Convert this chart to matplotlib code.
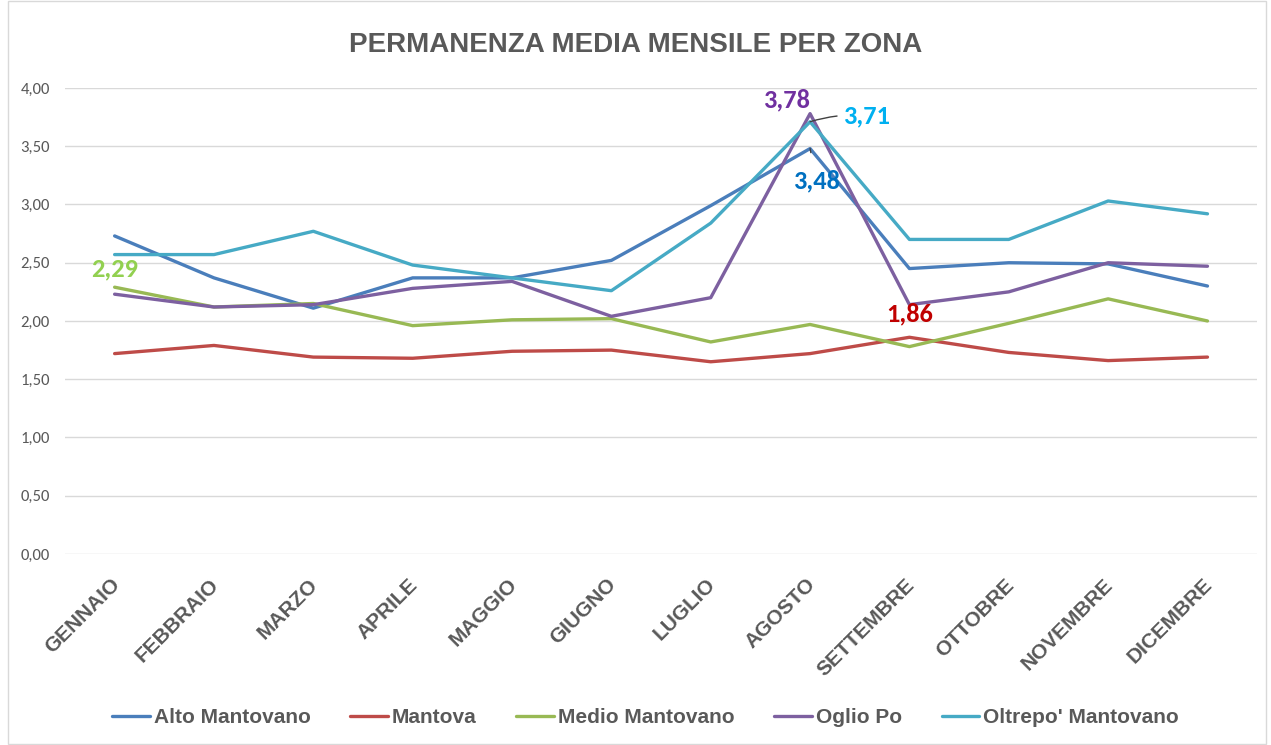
import matplotlib.pyplot as plt
import matplotlib.transforms as mtransforms
from matplotlib.ticker import FuncFormatter
from matplotlib.patches import Rectangle

# dati
mesi = ["GENNAIO", "FEBBRAIO", "MARZO", "APRILE", "MAGGIO", "GIUGNO",
        "LUGLIO", "AGOSTO", "SETTEMBRE", "OTTOBRE", "NOVEMBRE", "DICEMBRE"]
alto_mantovano = [2.73, 2.37, 2.11, 2.37, 2.37, 2.52, 2.99, 3.48, 2.45, 2.50, 2.49, 2.30]
mantova = [1.72, 1.79, 1.69, 1.68, 1.74, 1.75, 1.65, 1.72, 1.86, 1.73, 1.66, 1.69]
medio_mantovano = [2.29, 2.12, 2.15, 1.96, 2.01, 2.02, 1.82, 1.97, 1.78, 1.98, 2.19, 2.00]
oglio_po = [2.23, 2.12, 2.14, 2.28, 2.34, 2.04, 2.20, 3.78, 2.14, 2.25, 2.50, 2.47]
oltrepo = [2.57, 2.57, 2.77, 2.48, 2.37, 2.26, 2.84, 3.71, 2.70, 2.70, 3.03, 2.92]

serie = [
    ("Alto Mantovano", alto_mantovano, "#4A7EBB"),
    ("Mantova", mantova, "#BE4B48"),
    ("Medio Mantovano", medio_mantovano, "#98B954"),
    ("Oglio Po", oglio_po, "#7D60A0"),
    ("Oltrepo' Mantovano", oltrepo, "#46AAC5"),
]

arial = ["Liberation Sans", "DejaVu Sans"]
calibri = ["Carlito", "Liberation Sans", "DejaVu Sans"]
plt.rcParams["font.family"] = arial
grigio = "#595959"

fig = plt.figure(figsize=(12.71, 7.45), dpi=100)
fig.patches.append(Rectangle((0.006, 0.002), 0.99, 0.996, transform=fig.transFigure,
                             fill=False, edgecolor="#D9D9D9", lw=1))
ax = fig.add_axes([0.0511, 0.2564, 0.938, 0.6255])

x = list(range(len(mesi)))
for nome, valori, colore in serie:
    ax.plot(x, valori, color=colore, lw=2.4, label=nome, solid_capstyle="round")

ax.set_xlim(-0.5, len(mesi) - 0.5)
ax.set_ylim(0, 4)
ax.set_yticks([i * 0.5 for i in range(9)])
ax.yaxis.set_major_formatter(FuncFormatter(lambda v, p: f"{v:.2f}".replace(".", ",")))
ax.grid(axis="y", color="#D9D9D9", lw=1)
ax.set_axisbelow(True)
for s in ax.spines.values():
    s.set_visible(False)
ax.tick_params(axis="y", length=0, labelsize=12, labelcolor=grigio, pad=11)
for lab in ax.get_yticklabels():
    lab.set_family(calibri)
ax.tick_params(axis="x", length=0, pad=20)
ax.set_xticks(x)
ax.set_xticklabels(mesi, rotation=45, ha="right", va="center", rotation_mode="anchor",
                   fontsize=15, fontweight="bold", color=grigio, family=arial)
sposta = mtransforms.ScaledTranslation(2 / 100, 0, fig.dpi_scale_trans)
for lab in ax.get_xticklabels():
    lab.set_transform(lab.get_transform() + sposta)

fig.text(0.5, 0.94, "PERMANENZA MEDIA MENSILE PER ZONA", ha="center", va="center",
         fontsize=20, fontweight="bold", color=grigio, family=arial)

# etichette dei valori
lab_font = dict(fontsize=19, fontweight="bold", family=calibri)
ax.annotate("2,29", (0, medio_mantovano[0]), xytext=(0, 18), textcoords="offset pixels",
            ha="center", va="center", color="#92D050", **lab_font)
ax.annotate("3,78", (7, oglio_po[7]), xytext=(-24, 14), textcoords="offset pixels",
            ha="center", va="center", color="#7030A0", **lab_font)
ax.annotate("3,71", (7, oltrepo[7]), xytext=(56, 6), textcoords="offset pixels",
            ha="center", va="center", color="#00B0F0",
            arrowprops=dict(arrowstyle="-", color="#404040", lw=1, shrinkA=2, shrinkB=0,
                            connectionstyle="arc3,rad=0.1"), **lab_font)
ax.annotate("3,48", (7, alto_mantovano[7]), xytext=(6, -32), textcoords="offset pixels",
            ha="center", va="center", color="#0070C0",
            arrowprops=dict(arrowstyle="-", color="#404040", lw=1, shrinkA=10, shrinkB=0), **lab_font)
ax.annotate("1,86", (8, mantova[8]), xytext=(0, 23), textcoords="offset pixels",
            ha="center", va="center", color="#C00000", **lab_font)

leg = fig.legend(loc="center", bbox_to_anchor=(0.508, 0.037), ncol=5, frameon=False,
                 handlelength=1.8, handletextpad=0.2, columnspacing=1.9,
                 prop=dict(family=arial, size=15, weight="bold"))
for t in leg.get_texts():
    t.set_color(grigio)

fig.savefig("out.png", dpi=100)
